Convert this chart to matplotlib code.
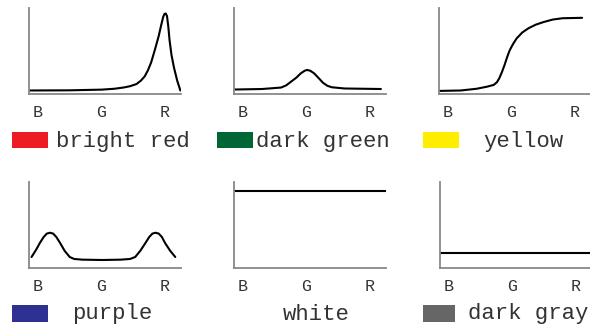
import matplotlib
matplotlib.use("Agg")
import matplotlib.pyplot as plt
from matplotlib.patches import Rectangle

# channel positions: B=0, G=1, R=2
channelLabels = ["B", "G", "R"]
channelTicks = [0, 1, 2]

# response curves
redX = [-0.14, 0.5, 1.0, 1.2, 1.35, 1.45, 1.55, 1.62, 1.68, 1.73, 1.78, 1.84, 1.90, 1.94, 1.97,
        1.99, 2.01, 2.03, 2.05, 2.07, 2.10, 2.14, 2.19, 2.24]
redY = [0.035, 0.037, 0.045, 0.055, 0.07, 0.085, 0.11, 0.15, 0.2, 0.27, 0.36, 0.51, 0.67, 0.8, 0.89,
        0.925, 0.93, 0.9, 0.78, 0.62, 0.45, 0.3, 0.15, 0.035]

greenX = [-0.14, 0.3, 0.6, 0.68, 0.76, 0.84, 0.91, 0.97, 1.01, 1.06, 1.12, 1.19, 1.26, 1.33, 1.40, 1.6, 2.17]
greenY = [0.052, 0.058, 0.075, 0.1, 0.145, 0.19, 0.24, 0.27, 0.28, 0.27, 0.24, 0.186, 0.13, 0.095, 0.078, 0.064, 0.058]

yellowX = [-0.14, 0.2, 0.45, 0.62, 0.72, 0.77, 0.81, 0.85, 0.89, 0.93, 0.97, 1.02, 1.08, 1.17, 1.27,
           1.38, 1.5, 1.65, 1.8, 2.11]
yellowY = [0.03, 0.035, 0.055, 0.08, 0.1, 0.13, 0.18, 0.25, 0.33, 0.42, 0.5, 0.57, 0.64, 0.71, 0.76,
           0.8, 0.83, 0.86, 0.875, 0.88]

purpleX = [-0.1, -0.03, 0.03, 0.09, 0.14, 0.19, 0.24, 0.29, 0.35, 0.42, 0.5, 0.57, 0.7, 1.01, 1.3, 1.45,
           1.53, 1.61, 1.69, 1.75, 1.80, 1.85, 1.90, 1.95, 2.0, 2.08, 2.16]
purpleY = [0.128, 0.21, 0.29, 0.36, 0.40, 0.41, 0.40, 0.36, 0.29, 0.2, 0.128, 0.105, 0.097, 0.093, 0.097, 0.105,
           0.128, 0.2, 0.29, 0.36, 0.40, 0.41, 0.40, 0.36, 0.29, 0.2, 0.128]

whiteX = [-0.14, 2.25]
whiteY = [0.895, 0.895]

grayX = [-0.14, 2.25]
grayY = [0.175, 0.175]

colorNames = ["bright red", "dark green", "yellow", "purple", "white", "dark gray"]
swatchColors = ["#ED1C24", "#006633", "#FFED00", "#2E3192", "#FFFFFF", "#666666"]

curves = [(redX, redY), (greenX, greenY), (yellowX, yellowY),
          (purpleX, purpleY), (whiteX, whiteY), (grayX, grayY)]

W, H = 590, 331
fig = plt.figure(figsize=(W / 100, H / 100), dpi=100)

# pixel layout of panels: (left spine x, bottom spine y)
panelOrigins = [(29, 93.5), (234, 94), (439, 93.5), (29, 268), (234, 268), (440, 268)]
# swatch boxes (x0, y0, x1, y1) and label start (x, y) in pixels
swatchBoxes = [(12, 132, 48, 148), (217, 132, 253, 148), (423, 132, 459, 148),
               (12, 305, 48, 322), None, (423, 305, 455, 322)]
labelPos = [(56, 141), (256, 141), (483, 141), (72, 314), (283, 314), (468, 314)]

monoFont = ["Liberation Mono", "DejaVu Sans Mono"]

for i, (xs, ys) in enumerate(curves):
    px, py = panelOrigins[i]
    ax = fig.add_axes([px / W, 1 - py / H, 152 / W, 86 / H])
    ax.plot(xs, ys, color="black", lw=1.5, solid_capstyle="round", solid_joinstyle="round")
    ax.set_xlim(-0.14, 2.25)
    ax.set_ylim(0, 1)
    ax.set_xticks(channelTicks)
    ax.set_xticklabels(channelLabels, fontfamily=monoFont, fontsize=12, color="#333333")
    ax.set_yticks([])
    ax.tick_params(axis="x", length=0, pad=8)
    for side in ["top", "right"]:
        ax.spines[side].set_visible(False)
    for side in ["left", "bottom"]:
        ax.spines[side].set_color("#888888")
        ax.spines[side].set_linewidth(1.3)
    ax.patch.set_alpha(0)

    box = swatchBoxes[i]
    if box is not None:
        x0, y0, x1, y1 = box
        fig.patches.append(Rectangle((x0 / W, 1 - y1 / H), (x1 - x0) / W, (y1 - y0) / H,
                                     transform=fig.transFigure, facecolor=swatchColors[i],
                                     edgecolor="none"))
    tx, ty = labelPos[i]
    fig.text(tx / W, 1 - ty / H, colorNames[i], fontfamily=monoFont, fontsize=16,
             color="#333333", ha="left", va="center")

fig.savefig("out.png", dpi=100)
